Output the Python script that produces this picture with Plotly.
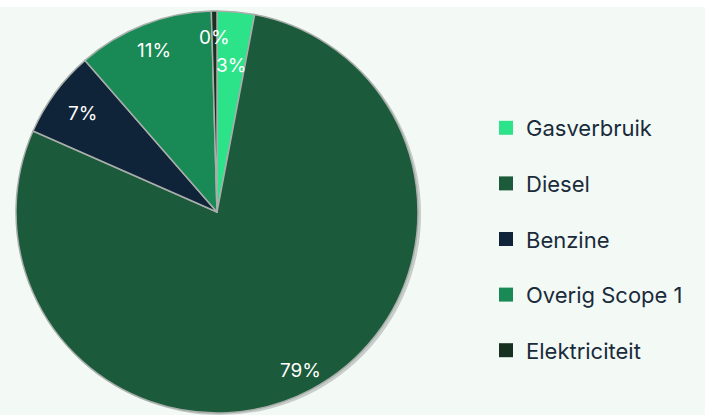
import math
import plotly.graph_objects as go

categories = ["Gasverbruik", "Diesel", "Benzine", "Overig Scope 1", "Elektriciteit"]
values = [3.0, 78.6, 7.0, 10.95, 0.45]
labels_txt = ["3%", "79%", "7%", "11%", "0%"]

colors = ["#2de38a", "#1b5a3a", "#0f2438", "#198a55", "#17301f"]
label_r = [0.73, 0.89, 0.83, 0.86, 0.87]

W, H = 705, 415
cx, cy, R = 217, 212, 201


def clamp(v):
    return max(0.0, min(1.0, v))


fig = go.Figure()

# soft shadow
fig.add_trace(go.Pie(values=[1], marker=dict(colors=["rgba(0,0,0,0.18)"], line=dict(width=0)),
                     textinfo="none", hoverinfo="skip", showlegend=False, sort=False,
                     domain=dict(x=[clamp((cx - R + 3) / W), clamp((cx + R + 3) / W)],
                                 y=[clamp(1 - (cy + R + 2) / H), clamp(1 - (cy - R + 2) / H)])))

fig.add_trace(go.Pie(
    labels=categories, values=values, sort=False, direction="clockwise", rotation=0,
    marker=dict(colors=colors, line=dict(color="#a9aeab", width=1.5)),
    textinfo="none", showlegend=False,
    domain=dict(x=[clamp((cx - R) / W), clamp((cx + R) / W)],
                y=[clamp(1 - (cy + R) / H), clamp(1 - (cy - R) / H)]),
))

# percentage labels placed from slice angles
total = sum(values)
acc = 0.0
for v, t, rf in zip(values, labels_txt, label_r):
    mid = (acc + v / 2) / total * 2 * math.pi
    acc += v
    px = cx + rf * R * math.sin(mid)
    py = cy - rf * R * math.cos(mid)
    fig.add_annotation(x=px / W, y=1 - py / H, xref="paper", yref="paper", text=t,
                       xanchor="center", yanchor="middle",
                       showarrow=False, font=dict(family="Inter", size=19, color="white"))

# legend entries
for c, col in zip(categories, colors):
    fig.add_trace(go.Scatter(x=[None], y=[None], mode="markers", name=c,
                             marker=dict(symbol="square", size=14, color=col),
                             legendgroup=c, showlegend=True))

fig.add_shape(type="rect", xref="paper", yref="paper", x0=0, x1=1, y0=1 - 7 / H, y1=1,
              fillcolor="white", line=dict(width=0), layer="below")

fig.update_layout(
    width=W, height=H, margin=dict(l=0, r=0, t=0, b=0),
    paper_bgcolor="#f3faf6", plot_bgcolor="rgba(0,0,0,0)",
    xaxis=dict(visible=False), yaxis=dict(visible=False),
    legend=dict(x=486 / W, y=1 - 107 / H, xanchor="left", yanchor="top",
                font=dict(family="Inter", size=22, color="#1a2b3a"),
                tracegroupgap=24, bgcolor="rgba(0,0,0,0)"),
)

fig.write_html("out.html", config={"displayModeBar": False},
               post_script="document.body.style.margin='0';")
